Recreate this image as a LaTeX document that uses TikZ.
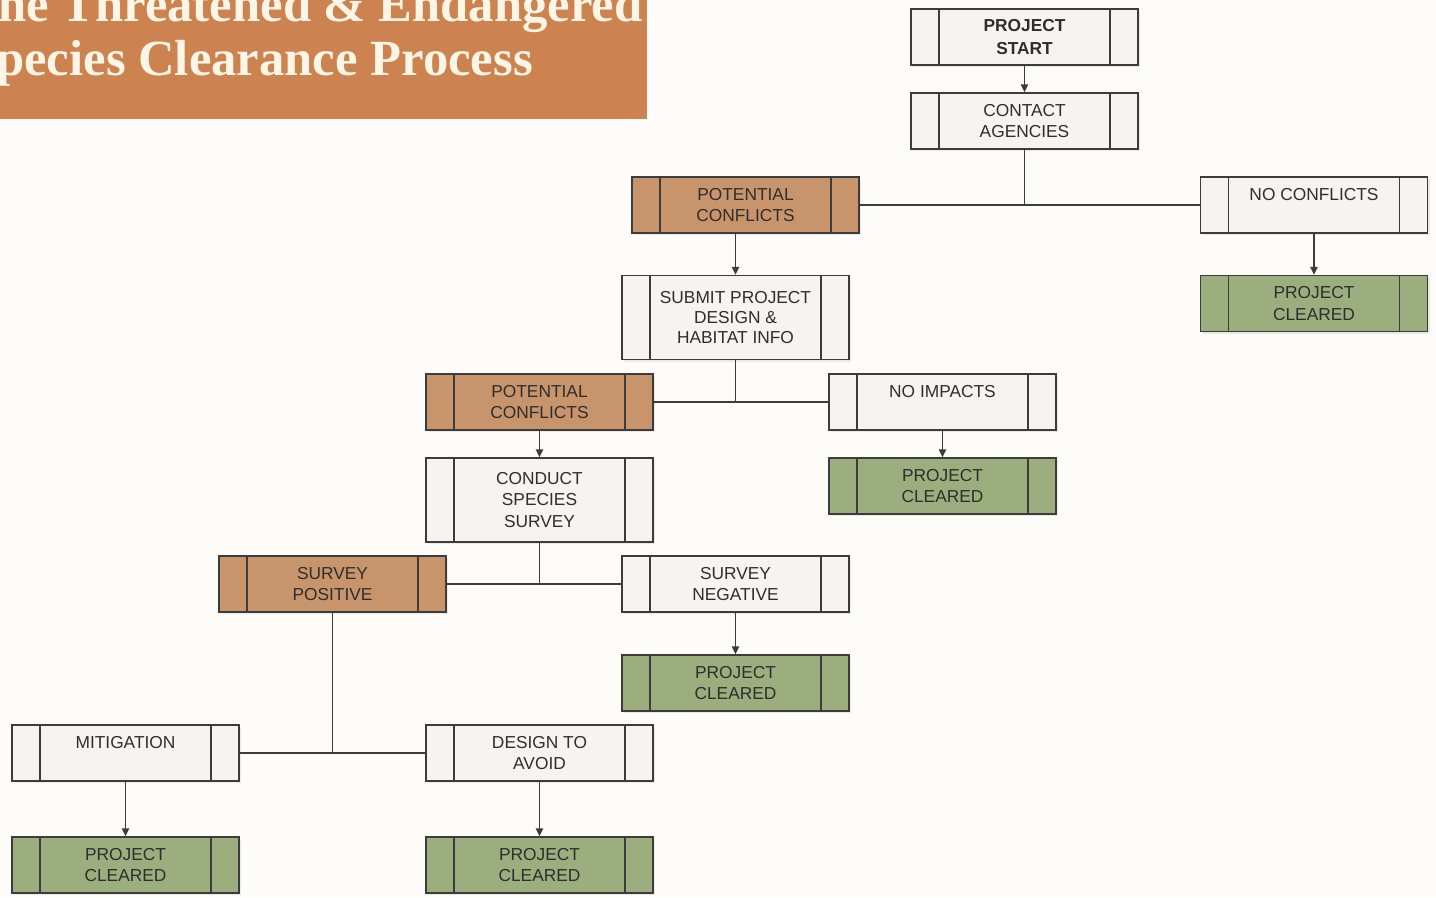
\documentclass[tikz,border=0pt]{standalone}
\usepackage{fontspec}
\setmainfont{Liberation Sans}
\newfontfamily\titlefont{Liberation Serif}
\usetikzlibrary{arrows.meta,shadows}
\definecolor{bg}{HTML}{FDFCF9}
\definecolor{linecol}{HTML}{3C3C3C}
\definecolor{txtcol}{HTML}{2E2E2E}
\definecolor{boxfill}{HTML}{F6F4F1}
\definecolor{brownfill}{HTML}{C8946B}
\definecolor{greenfill}{HTML}{9CAE7D}
\definecolor{titlefill}{HTML}{CC8350}
\definecolor{titletext}{HTML}{FDF5E6}
\tikzset{
  flowbox/.style={draw=linecol, line width=1.05pt, fill=boxfill, rectangle,
    minimum width=170.25pt, minimum height=42pt, inner sep=0pt,
    align=center, text=txtcol, font=\fontsize{13}{16}\selectfont,
    drop shadow={opacity=0.15, shadow xshift=1.5pt, shadow yshift=-1.5pt},
    path picture={
      \draw[linecol, line width=1.05pt]
        ([xshift=21pt]path picture bounding box.north west) -- ([xshift=21pt]path picture bounding box.south west)
        ([xshift=-21pt]path picture bounding box.north east) -- ([xshift=-21pt]path picture bounding box.south east);
    }},
  tallbox/.style={flowbox, minimum height=63pt},
  brownbox/.style={flowbox, fill=brownfill},
  greenbox/.style={flowbox, fill=greenfill},
  link/.style={draw=linecol, line width=1.05pt},
  arr/.style={link, -{Triangle[width=5.5pt,length=6pt]}}
}
\begin{document}
\begin{tikzpicture}[x=0.75pt,y=-0.75pt]
\fill[bg] (0,0) rectangle (1436,897);
\useasboundingbox (0,0) rectangle (1436,897);
% title
\fill[titlefill] (0,0) rectangle (647,119);
\begin{scope}
\clip (0,0) rectangle (647,119);
\node[anchor=base west, inner sep=0pt, text=titletext, font=\titlefont\bfseries\fontsize{38}{40}\selectfont] (t1) at (-2,21) {he Threatened \& Endangered};
\node[anchor=base west, inner sep=0pt, text=titletext, font=\titlefont\bfseries\fontsize{38}{40}\selectfont] (t2) at (-4,75) {pecies Clearance Process};
\end{scope}
% nodes
\node[flowbox, font=\fontsize{13}{17}\selectfont\bfseries] (start) at (1024.5,37) {PROJECT\\START};
\node[flowbox] (contact) at (1024.5,121) {CONTACT\\AGENCIES};
\node[brownbox] (pc1) at (745.5,205) {POTENTIAL\\CONFLICTS};
\node[flowbox] (noconf) at (1314,205) {NO CONFLICTS\\\mbox{}};
\node[greenbox] (clr1) at (1314,303.5) {PROJECT\\CLEARED};
\node[tallbox, font=\fontsize{13}{15}\selectfont] (submit) at (735.5,317.5) {SUBMIT PROJECT\\DESIGN \&\\HABITAT INFO};
\node[brownbox] (pc2) at (539.5,402) {POTENTIAL\\CONFLICTS};
\node[flowbox] (noimp) at (942.5,402) {NO IMPACTS\\\mbox{}};
\node[greenbox] (clr2) at (942.5,486) {PROJECT\\CLEARED};
\node[tallbox] (conduct) at (539.5,500) {CONDUCT\\SPECIES\\SURVEY};
\node[brownbox] (spos) at (332.5,584) {SURVEY\\POSITIVE};
\node[flowbox] (sneg) at (735.5,584) {SURVEY\\NEGATIVE};
\node[greenbox] (clr3) at (735.5,683) {PROJECT\\CLEARED};
\node[flowbox] (mitig) at (125.5,753) {MITIGATION\\\mbox{}};
\node[flowbox] (design) at (539.5,753) {DESIGN TO\\AVOID};
\node[greenbox] (clr4) at (125.5,865) {PROJECT\\CLEARED};
\node[greenbox] (clr5) at (539.5,865) {PROJECT\\CLEARED};
% connectors
\draw[arr] (start) -- (contact);
\draw[link] (contact.south) -- (contact.south |- pc1.east);
\draw[link] (pc1.east) -- (noconf.west);
\draw[arr] (pc1.south -| submit) -- (submit);
\draw[arr] (noconf) -- (clr1);
\draw[link] (submit.south) -- (submit.south |- pc2.east);
\draw[link] (pc2.east) -- (noimp.west);
\draw[arr] (pc2) -- (conduct);
\draw[arr] (noimp) -- (clr2);
\draw[link] (conduct.south) -- (conduct.south |- spos.east);
\draw[link] (spos.east) -- (sneg.west);
\draw[arr] (sneg) -- (clr3);
\draw[link] (spos.south) -- (spos.south |- mitig.east);
\draw[link] (mitig.east) -- (design.west);
\draw[arr] (mitig) -- (clr4);
\draw[arr] (design) -- (clr5);
\end{tikzpicture}
\end{document}
